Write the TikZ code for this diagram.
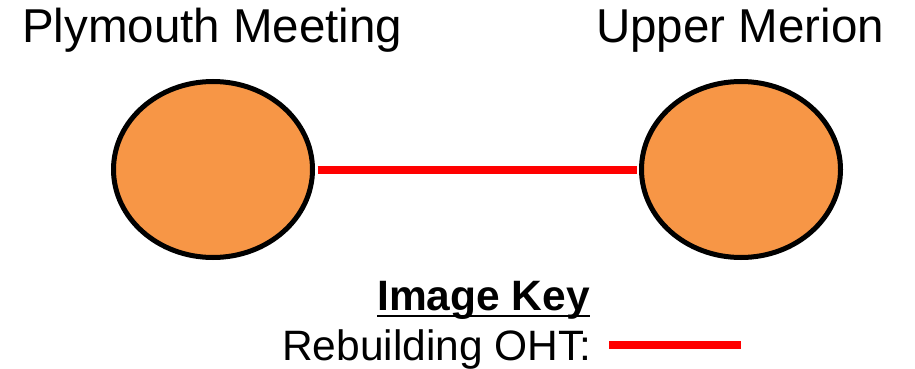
\documentclass[tikz,border=0pt]{standalone}
\usepackage{fontspec}
\setmainfont{Liberation Sans}
\usetikzlibrary{shapes.geometric}

\definecolor{stationorange}{RGB}{247,150,70}
\definecolor{ohtred}{RGB}{255,0,0}

\begin{document}
\begin{tikzpicture}[x=1pt,y=-1pt,
	station/.style={ellipse,draw=black,line width=5pt,fill=stationorange,
		inner sep=0pt,minimum width=199pt,minimum height=176pt},
	oht/.style={ohtred,line width=8pt},
	title/.style={inner sep=0pt,anchor=base west,font=\fontsize{47.5}{52}\selectfont},
	keytext/.style={inner sep=0pt,anchor=base west,font=\fontsize{42.5}{46}\selectfont}]
	\useasboundingbox (0,0) rectangle (915,369);

	\draw (22,43) node[title] (pmname){Plymouth Meeting};
	\draw (596,43) node[title] (umname){Upper Merion};

	\draw (213,169.5) node[station] (pm){};
	\draw (741,169.5) node[station] (um){};

	\draw[oht,shorten <=2.5pt,shorten >=2.5pt] (pm.east) -- (um.west);

	\draw (377,310) node[keytext,font=\fontsize{42.5}{46}\selectfont\bfseries] (imgkey){Image Key};
	\draw[line width=2pt] ([yshift=-6pt]imgkey.base west) -- ([yshift=-6pt]imgkey.base east);
	\draw (282,360) node[keytext] (rebuild){Rebuilding OHT:};

	\coordinate (keyA) at (609,345);
	\coordinate (keyB) at (741,345);
	\draw[oht] (keyA) -- (keyB);
\end{tikzpicture}
\end{document}
